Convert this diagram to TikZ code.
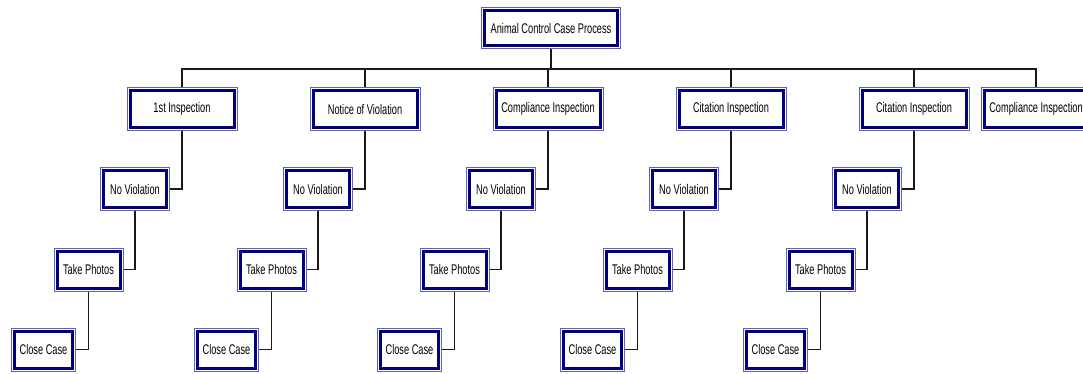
\documentclass[tikz,border=0pt]{standalone}
\usepackage{fontspec}
\usepackage{tikz}
\usetikzlibrary{positioning,calc}
\newfontfamily\boxfont[FakeStretch=0.66]{Liberation Sans}
\definecolor{nb}{RGB}{0,0,128}
\definecolor{ob}{RGB}{96,96,192}

\begin{document}
\begin{tikzpicture}[
    x=1pt,y=-1pt,
    blk/.style={rectangle,draw=ob,line width=1pt,fill=white,inner sep=0pt,minimum height=43pt,
        font=\boxfont\fontsize{14pt}{16pt}\selectfont,
        path picture={\draw[nb,line width=3pt] ([shift={(3pt,-3pt)}]path picture bounding box.north west) rectangle ([shift={(-3pt,3pt)}]path picture bounding box.south east);}},
    ln/.style={draw=black!90,line width=1.3pt},
]
\useasboundingbox (0,0) rectangle (1083,373);

\node[blk,minimum width=139pt,minimum height=41pt] (top) at (551,28) {Animal Control Case Process};
\coordinate (bus) at (551,69);

\node[blk,minimum width=110pt] (i1) at (182,109) {1st Inspection};
\node[blk,minimum width=110pt] (i2) at (365,109) {Notice of Violation};
\node[blk,minimum width=110pt] (i3) at (548,109) {Compliance Inspection};
\node[blk,minimum width=110pt] (i4) at (731,109) {Citation Inspection};
\node[blk,minimum width=110pt] (i5) at (914,109) {Citation Inspection};
\node[blk,minimum width=110pt] (i6) at (1036,109) {Compliance Inspection};

\node[blk,minimum width=69pt] (v1) at (135,189) {No Violation};
\node[blk,minimum width=69pt] (v2) at (318,189) {No Violation};
\node[blk,minimum width=69pt] (v3) at (501,189) {No Violation};
\node[blk,minimum width=69pt] (v4) at (684,189) {No Violation};
\node[blk,minimum width=69pt] (v5) at (867,189) {No Violation};

\node[blk,minimum width=69pt] (p1) at (88.5,269.5) {Take Photos};
\node[blk,minimum width=69pt] (p2) at (271.5,269.5) {Take Photos};
\node[blk,minimum width=69pt] (p3) at (454.5,269.5) {Take Photos};
\node[blk,minimum width=69pt] (p4) at (637.5,269.5) {Take Photos};
\node[blk,minimum width=69pt] (p5) at (820.5,269.5) {Take Photos};

\node[blk,minimum width=64pt] (k1) at (43.5,349.5) {Close Case};
\node[blk,minimum width=64pt] (k2) at (226.5,349.5) {Close Case};
\node[blk,minimum width=64pt] (k3) at (409.5,349.5) {Close Case};
\node[blk,minimum width=64pt] (k4) at (592.5,349.5) {Close Case};
\node[blk,minimum width=64pt] (k5) at (775.5,349.5) {Close Case};

\draw[ln] (top.south) -- (bus);
\draw[ln] (bus) -| (i1.north); \draw[ln] (bus) -| (i2.north); \draw[ln] (bus) -| (i3.north);
\draw[ln] (bus) -| (i4.north); \draw[ln] (bus) -| (i5.north); \draw[ln] (bus) -| (i6.north);

\draw[ln] (i1.south) |- (v1.east); \draw[ln] (i2.south) |- (v2.east); \draw[ln] (i3.south) |- (v3.east);
\draw[ln] (i4.south) |- (v4.east); \draw[ln] (i5.south) |- (v5.east);

\draw[ln] (v1.south) |- (p1.east); \draw[ln] (v2.south) |- (p2.east); \draw[ln] (v3.south) |- (p3.east);
\draw[ln] (v4.south) |- (p4.east); \draw[ln] (v5.south) |- (p5.east);

\draw[ln] (p1.south) |- (k1.east); \draw[ln] (p2.south) |- (k2.east); \draw[ln] (p3.south) |- (k3.east);
\draw[ln] (p4.south) |- (k4.east); \draw[ln] (p5.south) |- (k5.east);
\end{tikzpicture}
\end{document}
